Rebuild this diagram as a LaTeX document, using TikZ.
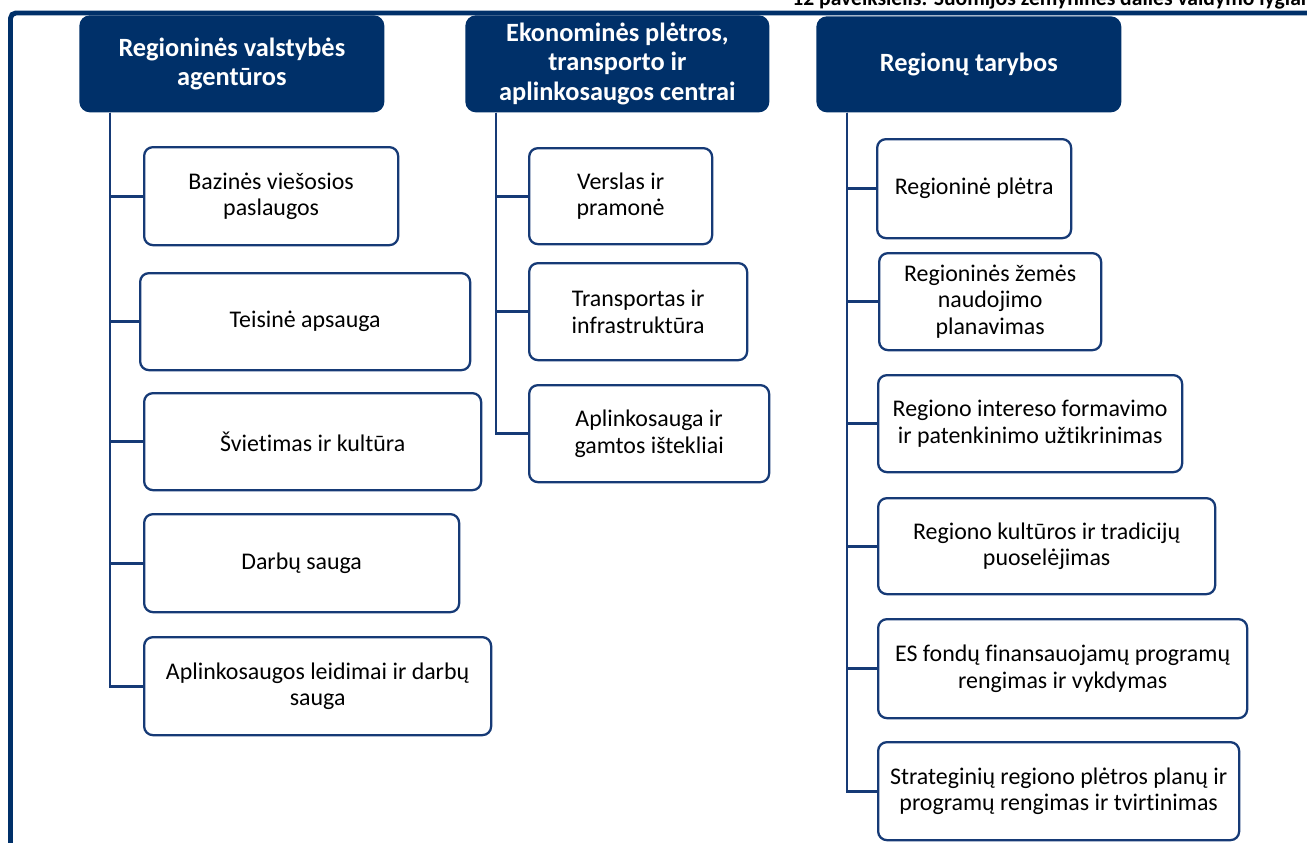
\documentclass[tikz,border=0pt]{standalone}
\usepackage{fontspec}
\setmainfont{Carlito}[Ligatures=NoCommon]
\usetikzlibrary{positioning}
\definecolor{navy}{RGB}{0,48,105}
\definecolor{edge}{RGB}{22,58,118}

\begin{document}
\begin{tikzpicture}[
            x=0.02cm, y=-0.02cm,
            head/.style={fill=navy, rounded corners=6pt, text=white, anchor=north west,
                align=center, inner sep=0pt, font=\bfseries\fontsize{15}{16.8}\selectfont},
            item/.style={draw=edge, line width=1.3pt, rounded corners=5pt, anchor=north west,
                align=center, inner sep=0pt, font=\fontsize{13.6}{15.2}\selectfont},
            boxsize/.style 2 args={minimum width=#1*0.02cm, minimum height=#2*0.02cm},
            link/.style={draw=edge, line width=1.6pt}
        ]
        \useasboundingbox (0,0) rectangle (1307,842);

        % frame and caption
        \draw[navy, line width=2.8pt, rounded corners=3pt] (10.5,860) |- (1330,13);
        \node[anchor=base west, inner sep=0pt, font=\bfseries\fontsize{12.3}{14}\selectfont] (caption) at (792,5)
            {12 paveikslėlis. Suomijos žemyninės dalies valdymo lygiai};

        % headers
        \node[head, boxsize={305}{97}] (agency) at (79,15) {Regioninės valstybės\\agentūros};
        \node[head, boxsize={304}{97}] (centre) at (465,15) {Ekonominės plėtros,\\transporto ir\\aplinkosaugos centrai};
        \node[head, boxsize={305}{96}] (council) at (816,16) {Regionų tarybos};

        % agencies
        \node[item, boxsize={254}{98}] (a1) at (143,146) {Bazinės viešosios\\paslaugos};
        \node[item, boxsize={330}{97}] (a2) at (139,272) {Teisinė apsauga};
        \node[item, boxsize={337}{97}] (a3) at (143,392) {Švietimas ir kultūra};
        \node[item, boxsize={315}{98}] (a4) at (143,513) {Darbų sauga};
        \node[item, boxsize={347}{98}] (a5) at (143,636) {Aplinkosaugos leidimai ir darbų\\sauga};

        % centres
        \node[item, boxsize={183}{96}] (c1) at (528,147) {Verslas ir\\pramonė};
        \node[item, boxsize={218}{97}] (c2) at (528,262) {Transportas ir\\infrastruktūra};
        \node[item, boxsize={240}{97}] (c3) at (528,384) {Aplinkosauga ir\\gamtos ištekliai};

        % councils
        \node[item, boxsize={194}{99}] (r1) at (876,138) {Regioninė plėtra};
        \node[item, boxsize={222}{97}] (r2) at (878,252) {Regioninės žemės\\naudojimo\\planavimas};
        \node[item, boxsize={304}{97}] (r3) at (877,374) {Regiono intereso formavimo\\ir patenkinimo užtikrinimas};
        \node[item, boxsize={337}{96}] (r4) at (877,497) {Regiono kultūros ir tradicijų\\puoselėjimas};
        \node[item, boxsize={369}{99}] (r5) at (877,618) {ES fondų finansauojamų programų\\rengimas ir vykdymas};
        \node[item, boxsize={361}{98}] (r6) at (877,741) {Strateginių regiono plėtros planų ir\\programų rengimas ir tvirtinimas};

        \foreach \c in {a1,a2,a3,a4,a5}
            \draw[link] (agency.south west) ++(31,0) |- (\c.west);
        \foreach \c in {c1,c2,c3}
            \draw[link] (centre.south west) ++(31,0) |- (\c.west);
        \foreach \c in {r1,r2,r3,r4,r5,r6}
            \draw[link] (council.south west) ++(31,0) |- (\c.west);
    \end{tikzpicture}
\end{document}
